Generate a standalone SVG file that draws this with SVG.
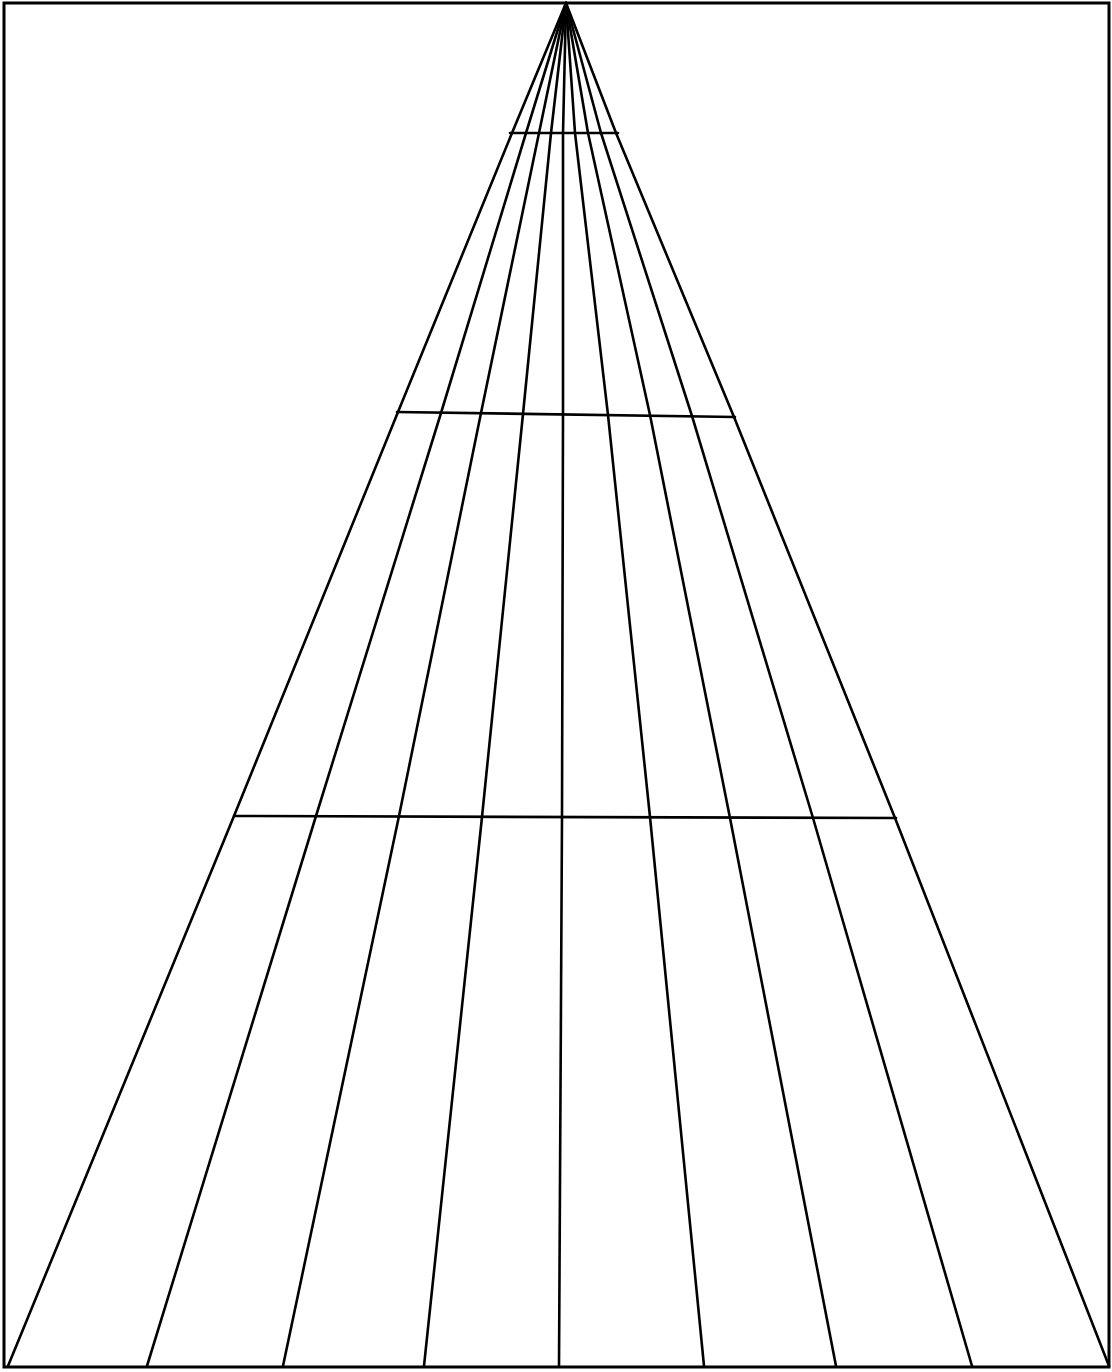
<svg xmlns="http://www.w3.org/2000/svg" width="1112" height="1372" viewBox="0 0 1112 1372">
<style>
.ln{fill:none;stroke:#000;stroke-width:2.6;stroke-linejoin:round;stroke-linecap:round}
.fr{fill:none;stroke:#000;stroke-width:3}
</style>
<rect width="1112" height="1372" fill="#fff"/>
<g id="frame"><rect class="fr" x="4" y="3" width="1105" height="1364"/></g>
<g id="radials">
<polyline class="ln" points="566,3 512,133 398,412 234,816 8,1366"/>
<polyline class="ln" points="566,3 526,133 441,413 316,816 147,1366"/>
<polyline class="ln" points="566,3 539,133 481,413 399,816 283,1366"/>
<polyline class="ln" points="566,3 551,133 523,414 482,817 424,1366"/>
<polyline class="ln" points="566,3 563,133 563,414 562,817 559,1366"/>
<polyline class="ln" points="566,3 575,133 608,415 650,817 704,1366"/>
<polyline class="ln" points="566,3 588,133 650,415 730,818 836,1366"/>
<polyline class="ln" points="566,3 601,133 692,416 813,818 972,1366"/>
<polyline class="ln" points="566,3 616,133 734,417 895,818 1109,1366"/>
</g>
<g id="crossbars">
<line class="ln" x1="510" y1="133" x2="618" y2="133"/>
<line class="ln" x1="397" y1="412" x2="735" y2="417"/>
<line class="ln" x1="234" y1="816" x2="896" y2="818"/>
</g>
</svg>
